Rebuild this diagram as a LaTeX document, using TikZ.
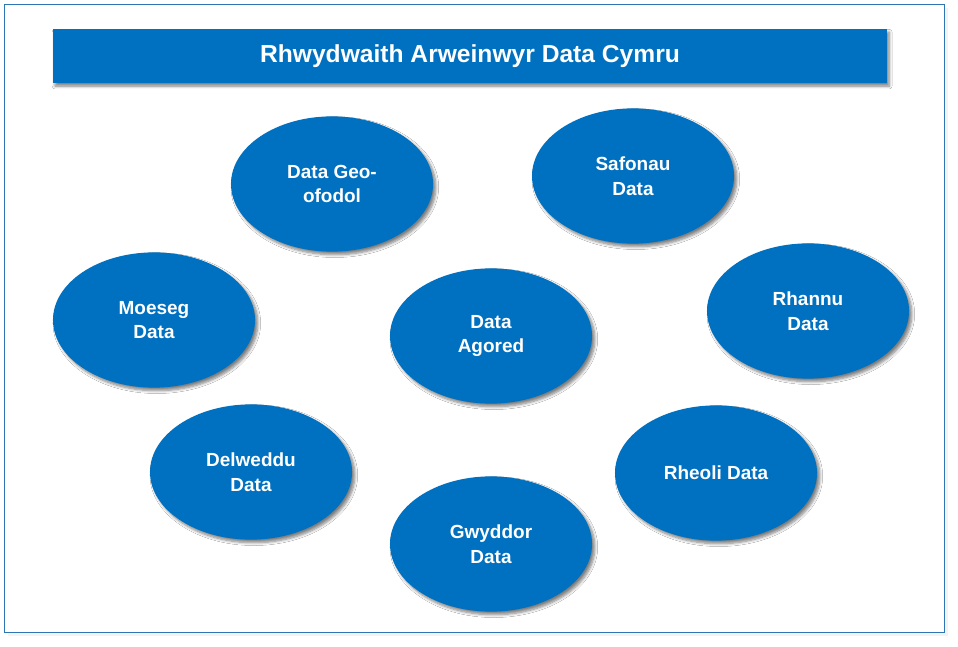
\documentclass[tikz,border=0pt]{standalone}
\usepackage{fontspec}
\setmainfont{Liberation Sans}
\usetikzlibrary{shapes.geometric,shadows.blur}
\definecolor{netblue}{HTML}{0070C0}
\definecolor{framblue}{HTML}{2E75B6}

\begin{document}
\begin{tikzpicture}[x=0.025cm, y=-0.025cm,
    topic/.style = {ellipse, fill=netblue, text=white, font=\fontsize{13.5}{17.5}\selectfont\bfseries, align=center, minimum width=5.05cm, minimum height=3.38cm, inner sep=0pt, blur shadow={shadow xshift=2pt, shadow yshift=-2.2pt, shadow blur radius=2pt, shadow blur steps=6, shadow opacity=50}},
    banner/.style = {rectangle, fill=netblue, text=white, font=\fontsize{17.5}{21}\selectfont\bfseries, minimum width=20.85cm, minimum height=1.35cm, inner sep=0pt, blur shadow={shadow xshift=1.5pt, shadow yshift=-2.2pt, shadow blur radius=2pt, shadow blur steps=6, shadow opacity=50}}]

    \useasboundingbox (0,0) rectangle (958,646);

    % frame
    \fill[black!8, opacity=0.6] (8,8) rectangle (948,636);
    \draw[framblue, fill=white, line width=0.7pt] (4,4) rectangle (944,632);

    % title
    \node[banner] (title) at (470,56) {Rhwydwaith Arweinwyr Data Cymru};

    % topics
    \node[topic] (geo) at (332,184) {Data Geo-\\ofodol};
    \node[topic] (safonau) at (633,176) {Safonau\\Data};
    \node[topic] (moeseg) at (154,320) {Moeseg\\Data};
    \node[topic] (agored) at (491,336) {Data\\Agored};
    \node[topic] (rhannu) at (808,311) {Rhannu\\Data};
    \node[topic] (delweddu) at (251,472) {Delweddu\\Data};
    \node[topic] (rheoli) at (716,473) {Rheoli Data};
    \node[topic] (gwyddor) at (491,544) {Gwyddor\\Data};

\end{tikzpicture}
\end{document}
